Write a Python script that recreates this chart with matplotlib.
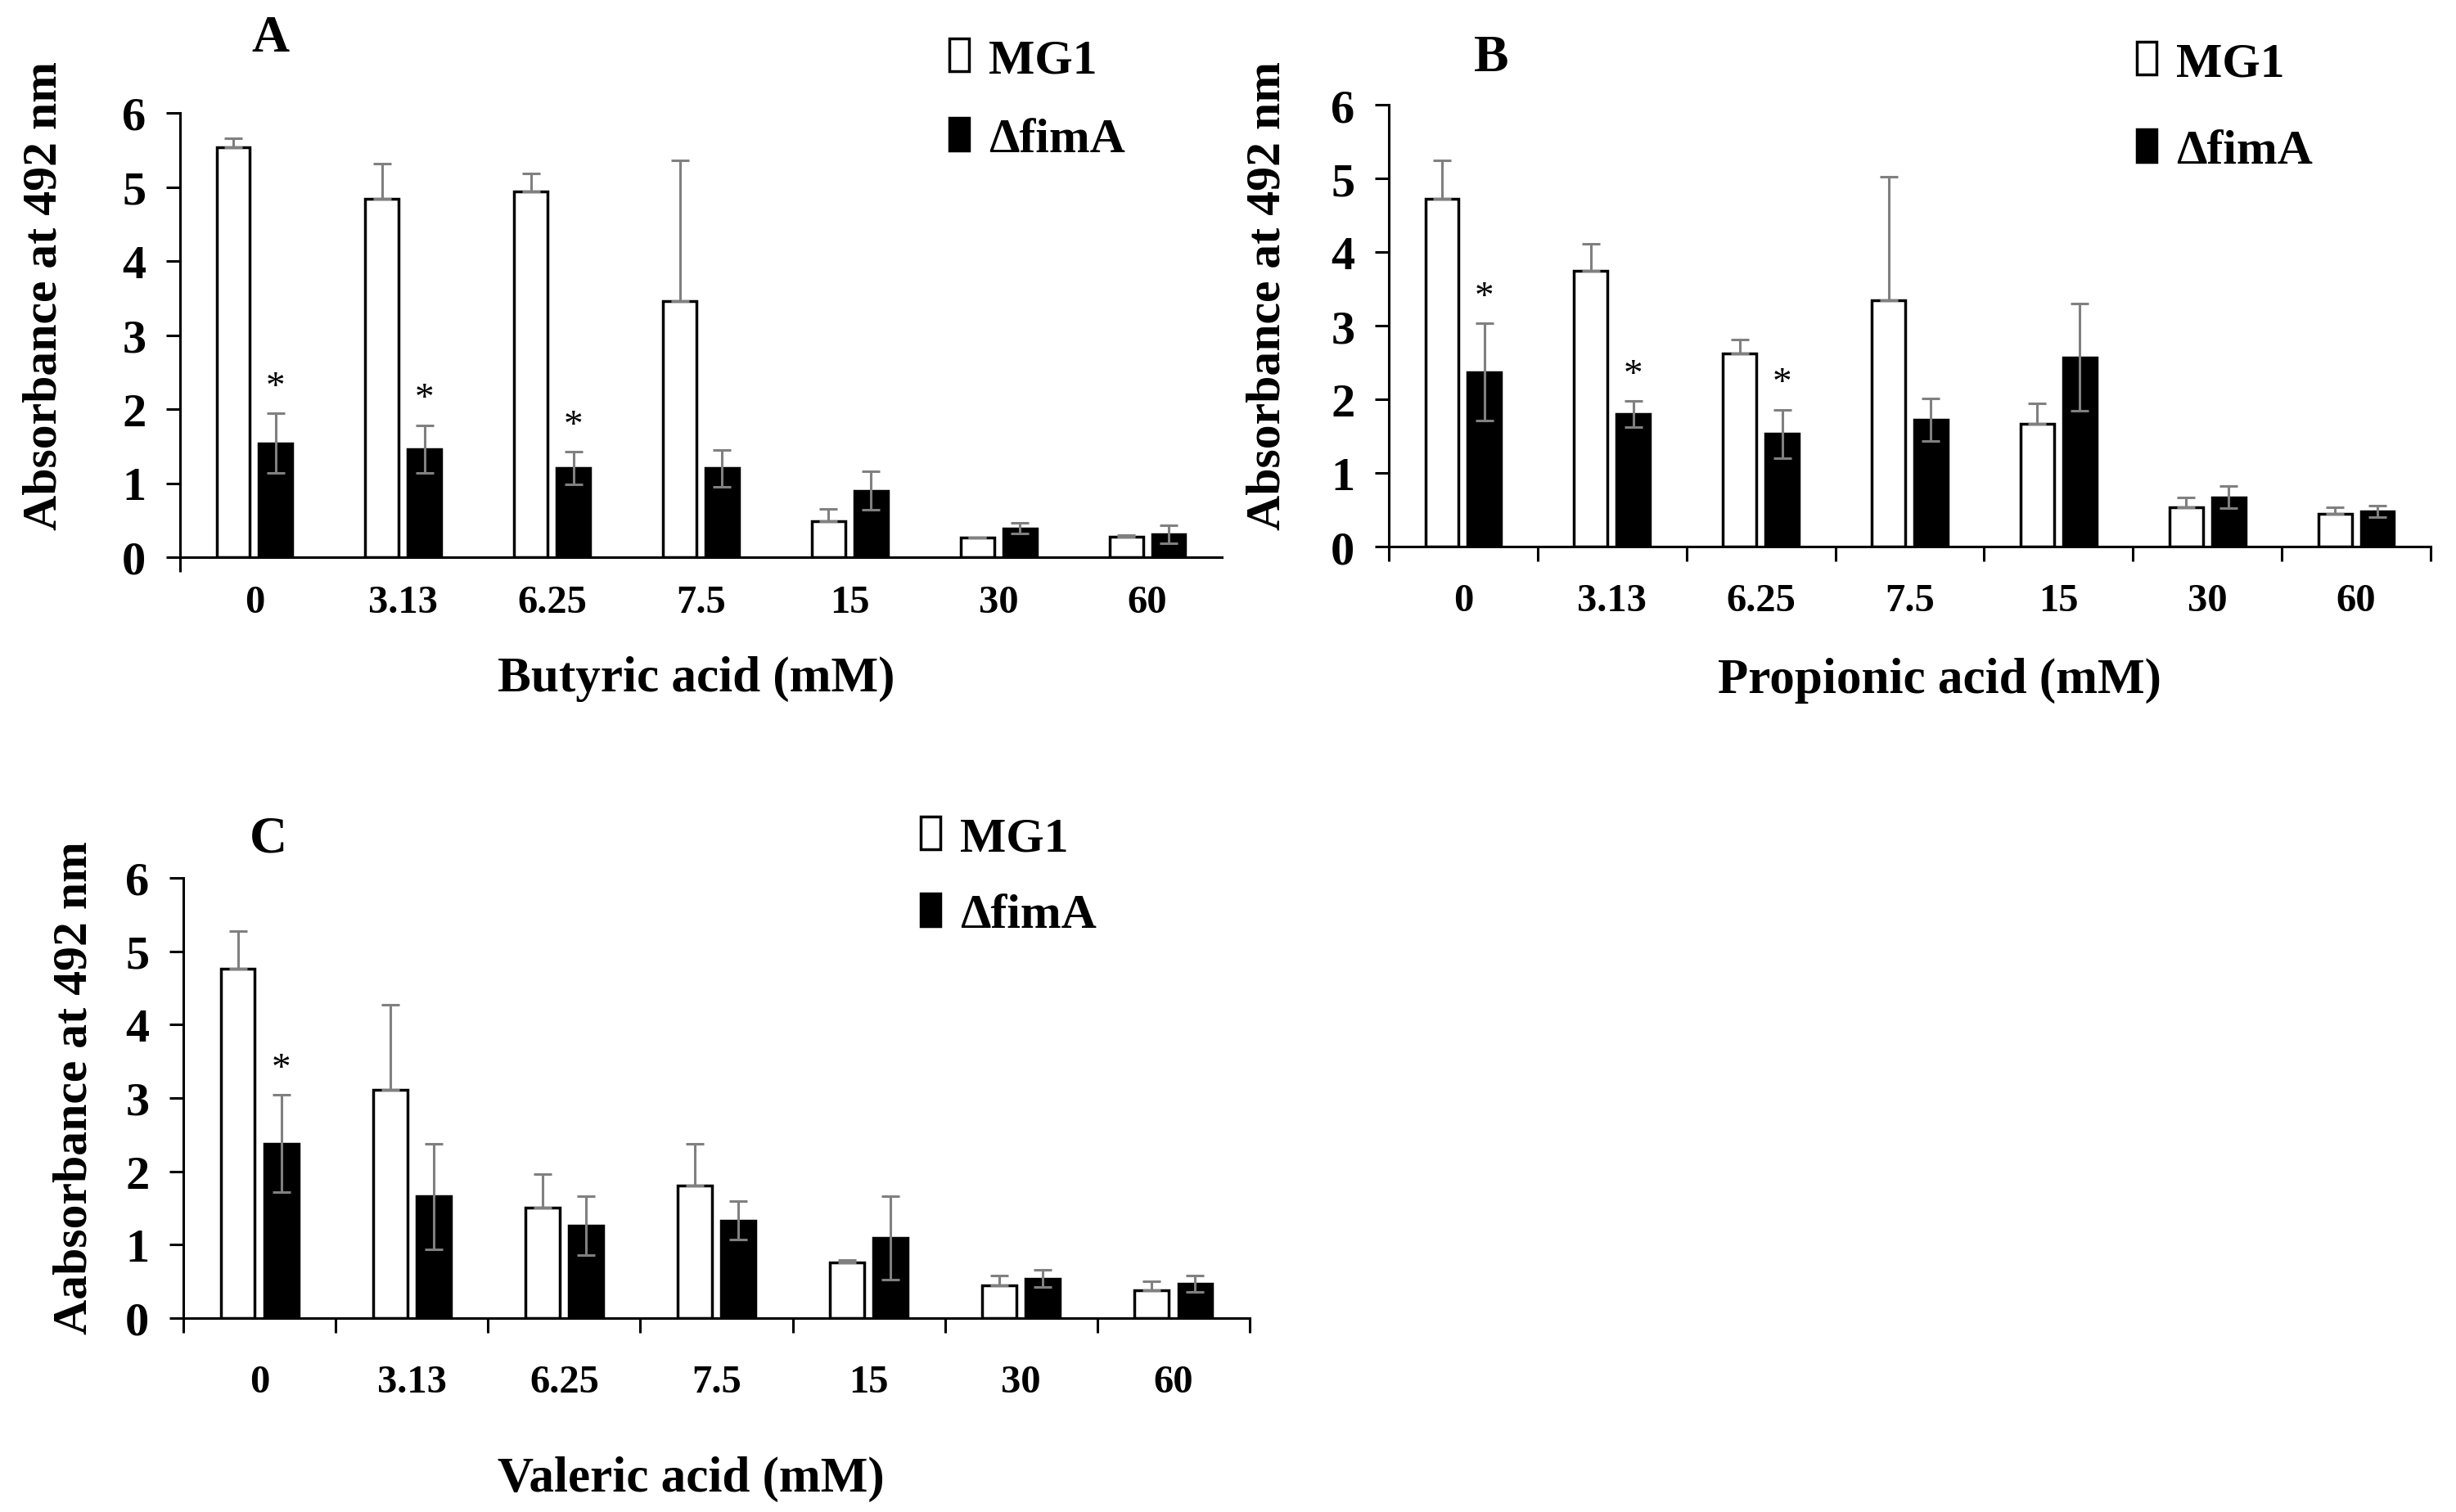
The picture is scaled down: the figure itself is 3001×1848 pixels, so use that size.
import matplotlib
matplotlib.use("Agg")
import matplotlib.pyplot as plt
import numpy as np

plt.rcParams['font.family'] = ['Liberation Serif', 'DejaVu Serif']
plt.rcParams['font.weight'] = 'bold'

categories = ['0', '3.13', '6.25', '7.5', '15', '30', '60']

# A - butyric acid
butyric_mg1 = [5.54, 4.84, 4.94, 3.46, 0.49, 0.26, 0.28]
butyric_mg1_err = [0.12, 0.48, 0.24, 1.90, 0.16, 0.01, 0.02]
butyric_fima = [1.54, 1.46, 1.20, 1.20, 0.90, 0.39, 0.31]
butyric_fima_err = [0.40, 0.32, 0.22, 0.25, 0.26, 0.07, 0.12]
butyric_stars = [0, 1, 2]

# B - propionic acid
propionic_mg1 = [4.72, 3.74, 2.62, 3.34, 1.67, 0.53, 0.45]
propionic_mg1_err = [0.52, 0.37, 0.19, 1.68, 0.28, 0.14, 0.08]
propionic_fima = [2.37, 1.80, 1.53, 1.72, 2.57, 0.67, 0.48]
propionic_fima_err = [0.66, 0.18, 0.33, 0.29, 0.73, 0.15, 0.08]
propionic_stars = [0, 1, 2]

# C - valeric acid
valeric_mg1 = [4.76, 3.11, 1.51, 1.81, 0.76, 0.45, 0.38]
valeric_mg1_err = [0.51, 1.16, 0.45, 0.57, 0.03, 0.13, 0.12]
valeric_fima = [2.38, 1.66, 1.26, 1.33, 1.09, 0.54, 0.47]
valeric_fima_err = [0.66, 0.72, 0.40, 0.26, 0.57, 0.12, 0.11]
valeric_stars = [0]

W, H = 3001, 1849
fig = plt.figure(figsize=(W / 100, H / 100), dpi=100)


def px(x0, y0, x1, y1):
    # pixel box (left, top, right, bottom) -> figure fraction rect
    return [x0 / W, 1 - y1 / H, (x1 - x0) / W, (y1 - y0) / H]


def panel(rect, mg1, mg1_err, fima, fima_err, stars, letter, letter_xy,
          ylabel, ylabel_xy, xlabel, xlabel_xy, leg_xy, leg_space,
          boundary_ticks, xpad):
    ax = fig.add_axes(rect)
    x = np.arange(len(categories))
    w = 0.225
    off = 0.1425
    ax.bar(x - off, mg1, w, color='white', edgecolor='black', linewidth=2.5,
           label='MG1', zorder=2)
    ax.bar(x + off, fima, w, color='black', edgecolor='black', linewidth=2.5,
           label='\u0394fimA', zorder=2)
    ax.errorbar(x - off, mg1, yerr=[np.zeros(len(mg1)), mg1_err], fmt='none',
                ecolor='#808080', elinewidth=2.2, capsize=8, capthick=2.2, zorder=3)
    ax.errorbar(x + off, fima, yerr=[fima_err, fima_err], fmt='none',
                ecolor='#808080', elinewidth=2.2, capsize=8, capthick=2.2, zorder=3)
    for i in stars:
        ax.text(x[i] + off, fima[i] + fima_err[i] + 0.35, '*', ha='center',
                va='center', fontsize=34, fontweight='normal')

    ax.set_xlim(-0.5, len(categories) - 0.5)
    ax.set_ylim(0, 6)
    ax.set_yticks(range(7))
    ax.tick_params(axis='y', direction='out', length=12, width=2.2,
                   labelsize=42, pad=18)
    ax.set_xticks(x)
    ax.set_xticklabels(categories)
    ax.tick_params(axis='x', which='major', length=0, labelsize=35, pad=xpad)
    ax.set_xticks(boundary_ticks, minor=True)
    ax.tick_params(axis='x', which='minor', direction='out', length=13, width=2.2)
    for s in ['top', 'right']:
        ax.spines[s].set_visible(False)
    for s in ['left', 'bottom']:
        ax.spines[s].set_linewidth(2.2)

    fig.text(letter_xy[0] / W, 1 - letter_xy[1] / H, letter, fontsize=46,
             ha='center', va='center')
    fig.text(ylabel_xy[0] / W, 1 - ylabel_xy[1] / H, ylabel, fontsize=43,
             rotation=90, ha='center', va='center')
    fig.text(xlabel_xy[0] / W, 1 - xlabel_xy[1] / H, xlabel, fontsize=44,
             ha='center', va='center')
    ax.legend(loc='upper left', bbox_to_anchor=(leg_xy[0] / W, 1 - leg_xy[1] / H),
              bbox_transform=fig.transFigure, frameon=False, fontsize=43,
              handlelength=0.4, handleheight=0.66, handletextpad=0.4,
              labelspacing=leg_space, borderpad=0, borderaxespad=0)
    return ax


all_bounds = np.arange(-0.5, len(categories), 1.0)

panel(px(220, 139, 1493, 682), butyric_mg1, butyric_mg1_err, butyric_fima,
      butyric_fima_err, butyric_stars, 'A', (330, 48),
      'Absorbance at 492 nm', (55, 362), 'Butyric acid (mM)', (851, 830),
      (1160, 48), 0.72, [-0.5], 24)

panel(px(1697, 129, 2970, 669), propionic_mg1, propionic_mg1_err, propionic_fima,
      propionic_fima_err, propionic_stars, 'B', (1822, 72),
      'Absorbance at 492 nm', (1550, 362), 'Propionic acid (mM)', (2370, 832),
      (2611, 52), 0.88, all_bounds, 32)

panel(px(224, 1074, 1527, 1612), valeric_mg1, valeric_mg1_err, valeric_fima,
      valeric_fima_err, valeric_stars, 'C', (328, 1027),
      'Aabsorbance at 492 nm', (92, 1330), 'Valeric acid (mM)', (844, 1808),
      (1125, 999), 0.66, all_bounds, 40)

fig.savefig('out.png', dpi=100)
